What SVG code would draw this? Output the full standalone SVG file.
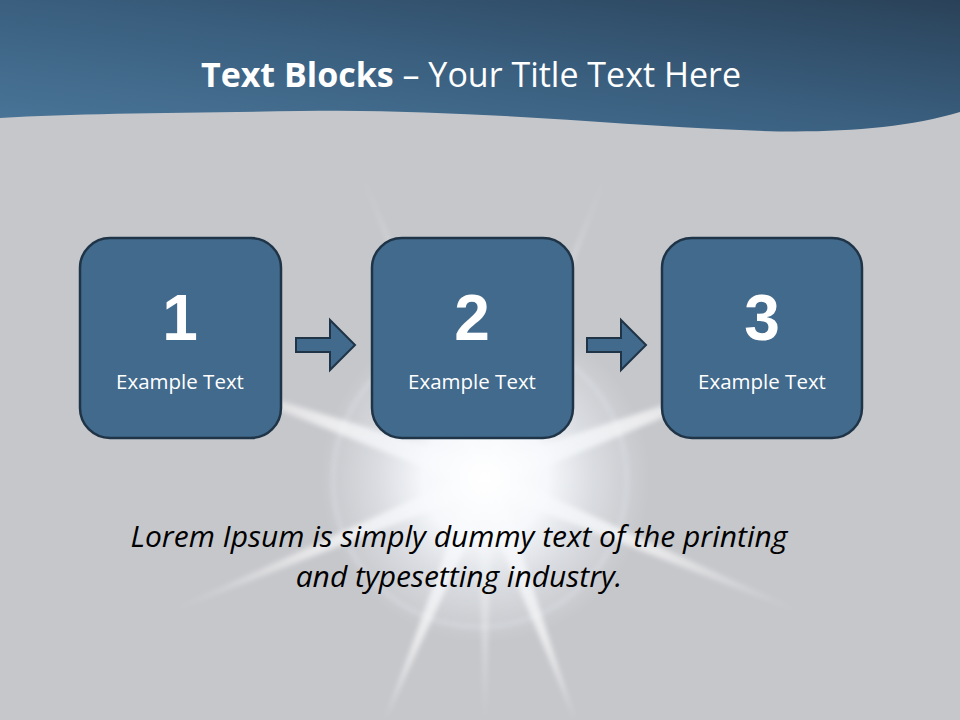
<svg xmlns="http://www.w3.org/2000/svg" width="960" height="720" viewBox="0 0 960 720">
<defs>
<linearGradient id="hdr" x1="0" y1="1" x2="1" y2="0">
<stop offset="0" stop-color="#4a7699"/>
<stop offset="0.5" stop-color="#3a5f7f"/>
<stop offset="1" stop-color="#2a4259"/>
</linearGradient>
<radialGradient id="glow" cx="485" cy="478" r="165" gradientUnits="userSpaceOnUse">
<stop offset="0" stop-color="#ffffff" stop-opacity="1"/>
<stop offset="0.38" stop-color="#f7f9fc" stop-opacity="0.97"/>
<stop offset="0.65" stop-color="#eef2f7" stop-opacity="0.5"/>
<stop offset="1" stop-color="#e8edf3" stop-opacity="0"/>
</radialGradient>
<radialGradient id="rayfade" cx="485" cy="478" r="340" gradientUnits="userSpaceOnUse">
<stop offset="0" stop-color="#ffffff" stop-opacity="0.95"/>
<stop offset="0.5" stop-color="#ffffff" stop-opacity="0.65"/>
<stop offset="1" stop-color="#ffffff" stop-opacity="0"/>
</radialGradient>
<filter id="soft" x="-20%" y="-20%" width="140%" height="140%">
<feGaussianBlur stdDeviation="2.5"/>
</filter>
<style>
.box{fill:#426a8c;stroke:#1f3447;stroke-width:2.5}
.num{font-family:"Liberation Sans",Arial,sans-serif;font-weight:bold;font-size:64px;fill:#ffffff;text-anchor:middle}
.lbl{font-family:"Open Sans","Noto Sans",sans-serif;font-size:20.5px;fill:#ffffff;text-anchor:middle}
.arr{fill:#426a8c;stroke:#1f3447;stroke-width:2;stroke-linejoin:miter}
.ray{fill:url(#rayfade)}
</style>
</defs>
<rect width="960" height="720" fill="#c6c7cb"/>
<g id="starburst">
<circle cx="480" cy="480" r="147" fill="none" stroke="#e3e7ee" stroke-opacity="0.45" stroke-width="3" filter="url(#soft)"/>
<g filter="url(#soft)">
<polygon class="ray" points="477,470 493,486 352,150"/>
<polygon class="ray" points="477,486 493,470 612,160"/>
<polygon class="ray" points="485,464 485,492 180,370"/>
<polygon class="ray" points="485,492 485,464 800,360"/>
<polygon class="ray" points="477,470 493,486 150,620"/>
<polygon class="ray" points="477,486 493,470 830,625"/>
<polygon class="ray" points="472,478 498,478 385,720"/>
<polygon class="ray" points="472,478 498,478 575,720"/>
<polygon class="ray" opacity="0.45" points="476,478 494,478 485,720"/>
</g>
<circle cx="485" cy="478" r="165" fill="url(#glow)"/>
</g>
<g id="header">
<path d="M0,0 H960 V112 C900,130 820,134 740,130 C600,124 450,108 300,111 C180,113 80,113 0,118 Z" fill="url(#hdr)"/>
<text x="471" y="87" text-anchor="middle" font-family="'Open Sans','Noto Sans',sans-serif" font-size="34" fill="#ffffff"><tspan font-weight="bold">Text Blocks</tspan> – Your Title Text Here</text>
</g>
<g id="node1">
<rect class="box" x="80" y="238" width="201" height="200" rx="30"/>
<text class="num" x="180" y="340">1</text>
<text class="lbl" x="180" y="389">Example Text</text>
</g>
<g id="node2">
<rect class="box" x="372" y="238" width="201" height="200" rx="30"/>
<text class="num" x="472" y="340">2</text>
<text class="lbl" x="472" y="389">Example Text</text>
</g>
<g id="node3">
<rect class="box" x="662" y="238" width="200" height="200" rx="30"/>
<text class="num" x="762" y="340">3</text>
<text class="lbl" x="762" y="389">Example Text</text>
</g>
<g id="connectors">
<polygon class="arr" points="296,338 330,338 330,320 355,345 330,370 330,352 296,352"/>
<polygon class="arr" points="587,338 621,338 621,320 646,345 621,370 621,352 587,352"/>
</g>
<g id="caption" font-family="'Open Sans','Noto Sans',sans-serif" font-style="italic" font-size="30" fill="#000000" text-anchor="middle">
<text x="459" y="547">Lorem Ipsum is simply dummy text of the printing</text>
<text x="459" y="587">and typesetting industry.</text>
</g>
</svg>
